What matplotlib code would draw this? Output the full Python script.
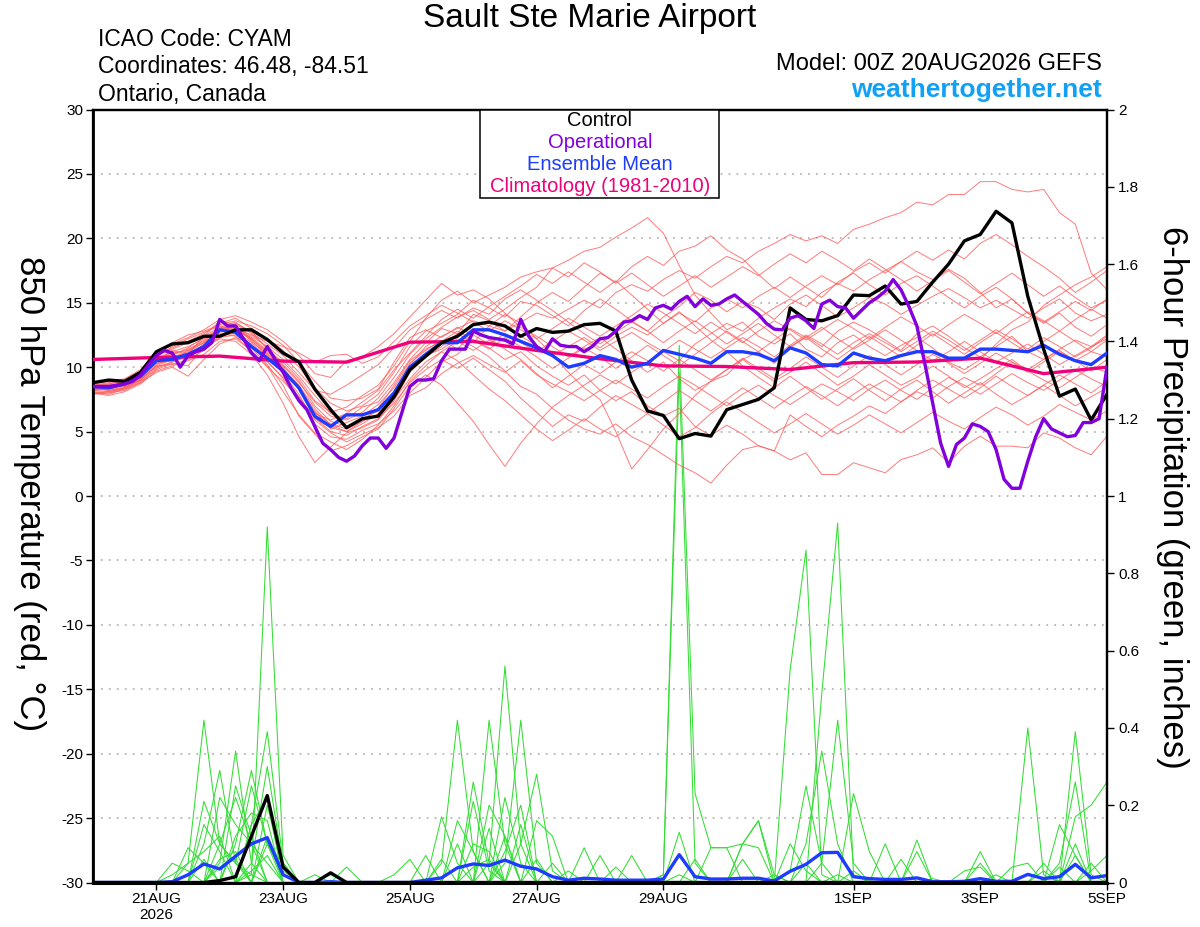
import numpy as np
import matplotlib
matplotlib.use('Agg')
import matplotlib.pyplot as plt
from matplotlib.patches import Rectangle

plt.rcParams['font.family'] = ['Liberation Sans', 'DejaVu Sans']
plt.rcParams['axes.unicode_minus'] = False

# ---------------- DATA ----------------
# time axis: 6-hourly steps from 00Z 20AUG2026 (days since start)
tick_days = [1, 3, 5, 7, 9, 12, 14, 16]
tick_labels = ['21AUG\n2026', '23AUG', '25AUG', '27AUG', '29AUG', '1SEP', '3SEP', '5SEP']

# Control (black) 850 hPa temperature, 6-hourly
control_t = [8.8, 9.0, 8.9, 9.6, 11.2, 11.8, 11.9, 12.4, 12.4, 12.9,
             12.9, 12.15, 11.1, 10.4, 8.3, 6.7, 5.3, 6.0, 6.2, 7.7,
             9.8, 10.85, 11.9, 12.4, 13.3, 13.5, 13.2, 12.4, 13.0, 12.7,
             12.8, 13.3, 13.4, 12.8, 9.0, 6.6, 6.25, 4.45, 4.85, 4.65,
             6.7, 7.1, 7.5, 8.4, 14.6, 13.7, 13.6, 14.0, 15.6, 15.55,
             16.3, 14.9, 15.1, 16.6, 18.0, 19.8, 20.3, 22.1, 21.2, 15.5,
             11.4, 7.75, 8.3, 5.9, 7.9]

# Operational (purple), 3-hourly
oper_t = [8.5, 8.5, 8.5, 8.6, 8.7, 8.9, 9.4, 10.2, 10.9, 11.3,
          11.1, 10.0, 10.9, 11.2, 11.4, 11.9, 13.7, 13.2, 13.2, 12.2,
          11.1, 10.5, 11.6, 10.6, 9.6, 8.4, 7.4, 6.7, 5.4, 4.1,
          3.6, 3.0, 2.7, 3.1, 3.9, 4.5, 4.5, 3.7, 4.5, 6.5,
          8.5, 9.0, 9.0, 9.1, 10.5, 11.4, 11.4, 11.4, 12.8, 12.5,
          12.3, 12.2, 12.1, 11.8, 13.7, 12.4, 11.6, 11.2, 12.2, 11.7,
          11.6, 11.6, 11.2, 11.6, 12.2, 12.3, 12.8, 13.5, 13.6, 14.0,
          13.7, 14.6, 14.8, 14.5, 15.1, 15.5, 14.7, 15.3, 14.8, 14.9,
          15.3, 15.6, 15.1, 14.6, 14.1, 13.4, 12.95, 12.9, 13.8, 14.0,
          13.6, 13.0, 14.9, 15.2, 14.7, 14.6, 13.8, 14.4, 15.0, 15.4,
          15.9, 16.8, 16.0, 14.7, 13.2, 10.3, 7.2, 4.1, 2.3, 4.0,
          4.5, 5.6, 5.4, 5.0, 3.6, 1.3, 0.6, 0.6, 2.7, 4.6,
          6.0, 5.2, 4.9, 4.6, 4.7, 5.7, 5.7, 6.0, 10.0]

# Ensemble mean (blue), 6-hourly
ensmean_t = [8.5, 8.4, 8.7, 9.3, 10.5, 10.6, 11.0, 11.6, 12.9, 12.7,
             11.6, 10.7, 9.7, 8.4, 6.2, 5.4, 6.3, 6.3, 6.7, 8.0,
             10.0, 11.0, 11.9, 11.9, 12.9, 12.9, 12.5, 12.0, 11.5, 10.9,
             10.0, 10.3, 10.9, 10.6, 10.0, 10.3, 11.3, 11.0, 10.7, 10.3,
             11.2, 11.2, 11.0, 10.5, 11.5, 11.1, 10.2, 10.1, 11.1, 10.7,
             10.5, 10.9, 11.2, 11.2, 10.7, 10.7, 11.4, 11.4, 11.3, 11.2,
             11.7, 11.0, 10.5, 10.2, 11.1]

# Climatology (pink), daily
clim_t = [10.6, 10.75, 10.86, 10.47, 10.39, 11.94, 12.0, 11.3, 10.65,
          10.1, 10.05, 9.82, 10.35, 10.4, 10.7, 9.5, 10.0]

# Ensemble members (red), 6-hourly
m01 = [8.2, 8.3, 8.6, 9.2, 10.3, 10.8, 11.2, 11.9, 12.8, 13.2, 12.0, 11.0, 9.9, 8.6, 6.8,
       5.5, 5.0, 5.6, 6.4, 8.0, 10.2, 11.6, 12.4, 13.0, 13.6, 13.2, 12.8, 13.5, 14.2, 13.8,
       14.5, 15.2, 14.6, 15.8, 16.4, 15.9, 16.8, 17.5, 16.9, 17.8, 18.6, 18.1, 19.0, 19.6, 20.3,
       19.8, 20.2, 19.6, 20.7, 21.1, 21.6, 22.0, 22.8, 22.6, 23.4, 23.4, 24.4, 24.4, 23.8, 23.6,
       23.8, 22.0, 21.1, 17.3, 16.0]
m02 = [8.0, 8.1, 8.4, 9.0, 10.0, 10.4, 10.9, 11.5, 12.4, 12.9, 12.3, 11.3, 10.4, 9.1, 7.4,
       6.5, 6.9, 7.8, 8.6, 10.1, 12.0, 13.8, 15.2, 15.9, 15.0, 15.6, 16.2, 17.0, 17.4, 17.7,
       18.3, 19.0, 19.3, 20.1, 20.8, 21.6, 20.4, 17.9, 15.6, 14.2, 12.9, 13.5, 12.4, 11.8, 12.6,
       11.4, 10.8, 11.9, 12.5, 11.6, 10.9, 11.7, 12.3, 11.5, 10.4, 9.8, 10.6, 11.8, 12.9, 13.5,
       14.8, 15.6, 16.4, 17.0, 17.8]
m03 = [8.4, 8.2, 8.5, 9.1, 10.1, 10.2, 10.6, 11.3, 12.5, 12.6, 11.5, 10.2, 8.6, 6.2, 4.8,
       3.5, 3.9, 4.6, 5.2, 6.8, 8.5, 9.4, 8.6, 7.2, 5.8, 4.0, 2.3, 4.1, 5.6, 6.9,
       7.8, 8.6, 9.4, 8.7, 9.6, 10.4, 11.2, 10.5, 11.8, 12.6, 13.4, 12.8, 13.8, 14.6, 15.3,
       14.7, 15.8, 16.5, 15.9, 16.8, 17.5, 18.2, 17.4, 16.8, 17.6, 16.9, 15.8, 14.6, 15.3, 14.2,
       13.5, 14.3, 15.1, 14.4, 15.3]
m04 = [8.0, 7.9, 8.3, 8.9, 9.8, 10.3, 10.1, 11.6, 12.2, 12.0, 11.0, 9.4, 7.2, 4.6, 2.6,
       3.8, 4.9, 5.3, 5.9, 7.4, 9.6, 10.8, 11.6, 12.6, 11.9, 13.2, 14.1, 13.4, 12.2, 11.0,
       9.6, 8.4, 7.5, 5.0, 2.1, 3.6, 5.2, 6.4, 7.8, 8.9, 9.4, 10.6, 11.2, 10.3, 11.5,
       12.4, 11.6, 12.8, 13.5, 12.9, 12.1, 11.3, 12.6, 13.2, 12.4, 11.5, 10.8, 11.6, 12.4, 11.2,
       10.6, 11.4, 12.1, 11.6, 12.5]
m05 = [8.3, 8.5, 8.8, 9.4, 10.6, 11.0, 11.4, 12.0, 13.1, 13.5, 12.6, 11.5, 10.2, 8.9, 7.0,
       5.8, 5.4, 6.0, 6.6, 7.8, 9.8, 10.9, 11.4, 12.2, 11.6, 10.8, 9.7, 8.5, 7.9, 6.8,
       5.9, 5.2, 4.8, 5.6, 4.6, 4.0, 3.2, 2.4, 1.8, 1.0, 2.4, 3.6, 3.9, 3.5, 6.3,
       5.4, 4.6, 5.5, 6.2, 7.0, 6.4, 7.3, 8.1, 7.6, 8.5, 9.2, 8.6, 9.5, 10.4, 9.8,
       10.6, 11.3, 10.5, 11.2, 10.8]
m06 = [8.1, 8.0, 8.4, 9.0, 10.2, 10.7, 11.1, 11.7, 12.7, 13.0, 12.1, 10.9, 9.5, 7.9, 5.6,
       4.6, 4.4, 5.1, 5.6, 6.6, 8.0, 9.2, 10.4, 11.0, 12.1, 11.5, 10.6, 11.2, 10.1, 9.3,
       8.6, 9.4, 8.2, 7.4, 8.1, 7.0, 6.2, 6.8, 5.4, 4.7, 5.5, 4.8, 3.9, 3.5, 2.8,
       3.35, 1.67, 1.67, 2.58, 2.19, 1.8, 2.83, 3.2, 3.74, 2.58, 3.87, 4.64, 3.87, 3.87, 3.74,
       4.9, 4.5, 3.74, 3.2, 4.64]
m07 = [8.6, 8.8, 9.0, 9.6, 10.9, 11.5, 12.0, 12.6, 13.4, 13.8, 13.0, 12.2, 11.3, 10.0, 8.4,
       7.2, 6.6, 7.0, 7.9, 9.6, 11.6, 12.8, 13.4, 14.1, 15.2, 14.6, 13.9, 15.1, 14.8, 14.0,
       13.2, 14.4, 15.3, 14.5, 13.6, 12.8, 13.9, 14.7, 15.8, 15.2, 14.3, 15.1, 14.6, 13.7, 14.9,
       15.6, 14.8, 13.9, 14.6, 15.4, 14.9, 14.1, 14.8, 15.5, 16.1, 15.4, 14.6, 15.2, 14.5, 13.8,
       14.6, 15.3, 14.2, 13.6, 14.1]
m08 = [8.5, 8.7, 8.9, 9.7, 11.0, 11.8, 12.3, 12.9, 13.7, 14.0, 13.5, 12.9, 12.0, 10.9, 9.5,
       9.2, 10.5, 10.8, 11.6, 12.6, 13.9, 15.2, 16.5, 15.6, 16.0, 15.3, 14.2, 13.1, 12.4, 11.6,
       10.8, 11.6, 12.3, 11.4, 10.5, 9.6, 10.4, 9.1, 8.2, 8.9, 9.8, 10.6, 9.7, 8.9, 9.6,
       10.4, 9.5, 8.6, 9.3, 10.2, 9.4, 8.6, 9.2, 10.1, 9.3, 8.4, 9.1, 9.9, 10.6, 9.7,
       9.0, 8.4, 9.2, 10.0, 9.6]
m09 = [8.3, 8.4, 8.7, 9.3, 10.5, 10.9, 11.5, 12.3, 12.9, 13.1, 12.4, 11.6, 10.6, 9.3, 7.8,
       6.4, 6.0, 6.9, 7.3, 8.8, 10.6, 11.9, 13.0, 12.6, 14.1, 13.6, 12.8, 13.9, 15.0, 15.8,
       15.1, 16.2, 17.3, 16.6, 17.8, 18.6, 17.9, 19.0, 19.4, 20.2, 19.1, 18.4, 17.2, 16.1, 17.0,
       16.2, 15.4, 16.6, 17.3, 16.4, 15.6, 16.5, 17.1, 16.3, 15.4, 14.6, 15.5, 16.2, 15.3, 14.2,
       13.4, 14.2, 13.1, 12.4, 13.3]
m10 = [7.9, 8.0, 8.2, 8.8, 9.6, 10.0, 9.3, 10.6, 11.8, 12.3, 11.8, 10.5, 9.1, 7.4, 5.9,
       4.9, 4.2, 4.8, 5.3, 6.2, 7.8, 8.4, 9.5, 10.3, 10.9, 10.2, 9.6, 10.5, 9.4, 8.7,
       8.1, 7.4, 8.2, 9.0, 8.3, 7.6, 8.5, 9.3, 8.6, 7.8, 7.0, 7.9, 8.6, 7.8, 7.1,
       7.9, 8.7, 8.1, 7.4, 8.3, 9.0, 8.2, 7.5, 8.4, 9.2, 8.6, 7.9, 8.7, 9.5, 8.8,
       8.2, 9.0, 9.8, 9.1, 8.5]
m11 = [8.6, 8.5, 8.9, 9.5, 10.7, 11.2, 11.6, 12.2, 13.0, 12.8, 11.9, 10.8, 9.8, 8.5, 6.6,
       5.2, 5.7, 6.2, 7.1, 8.4, 10.3, 11.3, 12.1, 11.4, 12.7, 12.2, 11.5, 12.4, 11.7, 10.9,
       11.6, 12.3, 11.5, 12.4, 13.1, 12.5, 13.4, 14.2, 13.5, 14.6, 15.3, 14.6, 15.5, 16.2, 15.4,
       16.3, 17.1, 16.4, 17.4, 18.1, 17.3, 18.2, 19.0, 18.3, 19.1, 18.4, 19.6, 20.3, 19.5, 18.6,
       17.8, 16.9, 15.8, 16.6, 17.5]
m12 = [8.2, 8.6, 8.5, 9.1, 10.4, 11.3, 11.0, 12.4, 13.6, 13.3, 12.7, 11.8, 10.9, 9.6, 8.2,
       7.9, 8.6, 9.4, 10.2, 11.5, 12.9, 13.7, 14.4, 13.8, 14.6, 14.1, 15.3, 16.0, 15.2, 14.4,
       13.5, 12.6, 11.8, 12.7, 13.5, 12.8, 11.9, 12.8, 13.6, 12.7, 11.8, 12.6, 13.4, 12.5, 11.6,
       12.3, 13.1, 12.2, 11.4, 12.1, 12.9, 12.1, 11.3, 10.5, 11.2, 12.0, 11.2, 10.4, 11.1, 11.8,
       11.0, 10.2, 10.9, 11.6, 12.2]
m13 = [8.4, 8.3, 8.6, 9.2, 10.3, 10.5, 10.8, 11.8, 12.6, 12.4, 11.2, 10.0, 8.9, 7.6, 6.1,
       5.0, 4.7, 5.4, 6.0, 7.2, 8.8, 9.8, 10.6, 9.9, 10.7, 9.8, 8.9, 7.6, 6.5, 5.4,
       6.3, 5.8, 6.9, 7.8, 7.1, 6.4, 5.5, 4.6, 5.3, 6.4, 7.3, 6.5, 5.7, 4.9, 5.6,
       6.4, 5.6, 4.8, 5.5, 6.3, 5.6, 4.9, 5.7, 6.5, 5.8, 5.2, 6.1, 6.9, 6.3, 5.5,
       6.2, 7.1, 6.5, 5.9, 6.6]
m14 = [8.7, 8.9, 9.1, 9.8, 11.2, 11.9, 12.5, 12.8, 13.3, 13.6, 13.2, 12.6, 11.7, 10.4, 8.9,
       7.6, 7.4, 7.6, 8.3, 10.4, 12.3, 12.9, 12.3, 13.1, 12.5, 11.8, 12.6, 11.9, 11.2, 12.0,
       12.8, 12.1, 11.3, 12.0, 12.7, 11.9, 11.2, 12.1, 11.4, 10.7, 11.5, 12.3, 11.6, 10.8, 11.7,
       12.5, 11.8, 11.0, 11.9, 12.6, 11.9, 11.2, 12.0, 12.8, 12.1, 11.3, 12.1, 12.9, 12.2, 11.4,
       12.3, 11.6, 10.8, 11.5, 12.4]
m15 = [8.3, 8.2, 8.4, 9.0, 10.1, 10.6, 11.3, 11.9, 12.9, 13.4, 12.8, 11.4, 10.0, 8.2, 6.4,
       5.9, 6.4, 7.3, 8.2, 9.8, 11.1, 12.4, 13.7, 14.5, 13.8, 14.7, 15.5, 16.3, 17.2, 16.5,
       17.4, 16.6, 15.8, 16.7, 15.6, 14.5, 13.4, 14.3, 13.2, 12.1, 11.2, 10.1, 9.2, 8.4, 9.3,
       8.4, 7.5, 8.3, 9.1, 8.2, 7.4, 8.3, 9.0, 8.1, 7.2, 8.0, 8.8, 7.9, 7.1, 7.8,
       8.6, 7.8, 7.0, 7.7, 8.4]
m16 = [8.0, 7.8, 8.1, 8.7, 9.7, 10.1, 10.5, 11.0, 12.0, 12.2, 11.3, 10.1, 8.1, 6.3, 4.9,
       4.2, 3.6, 4.4, 5.5, 7.0, 8.9, 10.1, 11.2, 12.0, 11.3, 12.1, 11.4, 10.6, 9.5, 8.4,
       9.3, 10.2, 9.5, 10.4, 11.2, 10.5, 9.7, 10.6, 9.8, 9.0, 9.8, 10.7, 9.9, 9.1, 9.9,
       10.8, 10.0, 9.2, 10.1, 10.9, 10.2, 9.4, 10.2, 11.0, 10.3, 9.5, 10.3, 11.1, 10.4, 9.6,
       10.4, 11.2, 10.5, 9.7, 10.6]
m17 = [8.5, 8.6, 8.8, 9.5, 10.8, 11.6, 12.2, 12.7, 13.2, 13.0, 12.5, 12.0, 11.6, 11.1, 10.4,
       10.9, 11.0, 10.3, 10.8, 12.0, 13.2, 14.0, 14.8, 14.2, 13.5, 12.8, 13.6, 12.9, 12.2, 13.0,
       13.8, 13.1, 12.4, 13.2, 14.0, 14.9, 14.2, 13.4, 12.6, 13.5, 12.7, 11.9, 12.8, 13.6, 12.9,
       12.1, 12.9, 13.7, 13.0, 12.2, 13.1, 13.9, 13.2, 12.4, 13.3, 14.1, 13.4, 12.6, 13.5, 14.3,
       13.6, 12.8, 13.7, 14.5, 13.8]
m18 = [8.2, 8.1, 8.3, 8.8, 9.9, 10.4, 10.8, 11.4, 12.3, 12.5, 11.6, 10.4, 9.2, 7.7, 6.0,
       5.3, 5.0, 5.8, 6.3, 7.5, 9.1, 10.4, 11.2, 10.5, 9.4, 8.3, 7.4, 6.3, 5.2, 4.3,
       5.1, 6.0, 5.2, 4.6, 5.5, 6.4, 7.3, 8.2, 7.4, 6.6, 7.5, 8.4, 7.6, 6.8, 7.7,
       8.5, 7.8, 7.0, 7.9, 8.7, 8.0, 7.3, 8.2, 9.0, 8.3, 7.6, 8.4, 9.3, 8.5, 7.8,
       8.6, 9.4, 8.7, 8.0, 8.9]
m19 = [8.6, 8.7, 9.0, 9.7, 10.9, 11.4, 11.9, 12.4, 13.1, 12.9, 12.2, 11.2, 10.1, 8.8, 7.3,
       6.2, 5.9, 6.5, 7.6, 9.2, 11.0, 12.2, 13.1, 13.9, 14.4, 13.7, 14.5, 15.4, 16.2, 17.7,
       17.0, 18.1, 17.4, 16.5, 17.3, 16.4, 15.5, 16.3, 17.1, 16.2, 17.0, 17.8, 17.1, 18.0, 18.8,
       18.1, 19.0, 18.3, 17.5, 18.4, 17.6, 16.8, 15.9, 16.7, 17.5, 16.6, 15.7, 16.5, 17.3, 16.4,
       15.5, 16.3, 15.4, 14.6, 15.2]
m20 = [8.4, 8.6, 8.7, 9.4, 10.6, 11.1, 11.3, 12.1, 13.0, 13.2, 12.2, 11.1, 9.9, 8.3, 6.5,
       5.6, 5.2, 5.8, 6.8, 8.6, 10.5, 11.4, 12.0, 12.8, 12.1, 11.4, 12.3, 11.6, 10.8, 9.9,
       10.7, 11.5, 10.8, 9.9, 10.8, 11.7, 10.9, 10.1, 11.0, 11.9, 12.8, 12.0, 11.2, 12.1, 13.0,
       12.3, 11.4, 10.6, 11.5, 12.4, 11.6, 10.8, 11.7, 12.6, 11.8, 11.0, 11.9, 12.7, 11.9, 11.1,
       12.0, 12.8, 12.0, 11.2, 12.1]
members_t = [m01, m02, m03, m04, m05, m06, m07, m08, m09, m10,
             m11, m12, m13, m14, m15, m16, m17, m18, m19, m20]

# 6-hour precipitation (inches), 6-hourly
control_p = [0, 0, 0, 0, 0, 0, 0, 0, .005, .015, .12, .225, .04, 0, 0, .025, 0, 0, 0, 0,
             0, 0, 0, 0, 0, 0, 0, 0, 0, 0, 0, 0, 0, 0, 0, 0, 0, 0, 0, 0,
             0, 0, 0, 0, 0, 0, 0, 0, 0, 0, 0, 0, 0, 0, 0, 0, 0, 0, 0, 0,
             0, 0, 0, 0, 0]
ensmean_p = [0, 0, 0, 0, 0, .002, .02, .048, .035, .068, .10, .116, .02, 0, 0,
             .002, 0, 0, 0, 0, 0, .006, .012, .038, .048, .044, .058, .042, .035, .015,
             .006, .011, .009, .006, .006, .006, .009, .072, .015, .009, .009, .011, .011, .004, .029,
             .047, .077, .078, .015, .01, .008, .008, .012, .002, .002, .003, .01, .003, .003, .021,
             .01, .015, .047, .012, .018]

g01 = [0,0,0,0,0, .02,.05,.42,.10,.05, .02,0,0,0,0, 0,0,0,0,0, 0,0,.05,.42,.08, 0,0,0,0,0, 0,0,0,0,0, 0,0,.02,0,0, 0,0,0,0,.55, .86,.02,0,0,0, 0,0,0,0,0, 0,0,0,0,.40, .02,0,0,0,0]
g02 = [0,0,0,0,0, 0,0,.21,.10,.05, .25,.10,.02,0,0, 0,0,0,0,0, 0,0,0,0,0, .42,.10,0,0,0, 0,0,0,0,0, 0,.02,1.39,.23,.09, .09,.10,.16,.02,0, 0,0,0,0,0, 0,0,0,0,0, 0,0,0,0,0, 0,0,.39,.02,0]
g03 = [0,0,0,0,0, 0,0,0,0,0, .02,.92,.07,0,0, 0,0,0,0,0, 0,0,0,0,0, .05,.56,.10,0,0, 0,0,0,0,0, 0,0,0,0,0, 0,0,0,0,0, 0,.49,.93,.02,0, 0,0,0,0,0, 0,0,.02,0,0, 0,0,0,0,0]
g04 = [0,0,0,0,0, 0,0,0,0,0, .15,.39,.05,0,0, 0,0,0,0,0, 0,0,0,0,0, 0,.05,.42,.05,0, 0,0,0,0,0, 0,.02,1.32,.05,0, 0,0,0,0,0, 0,0,0,0,0, 0,0,0,0,0, 0,0,0,0,0, 0,.05,.26,0,0]
g05 = [0,0,0,0,0, 0,0,0,.05,.34, .05,0,0,0,0, 0,0,0,0,0, 0,0,0,0,0, 0,0,.10,.28,.03, 0,0,0,0,0, 0,0,0,0,0, 0,0,0,0,0, 0,.05,.42,.05,0, 0,0,0,0,0, 0,0,0,0,0, 0,0,.17,.20,.26]
g06 = [0,0,0,0,0, 0,0,0,.10,.22, .10,.05,0,0,0, 0,0,0,0,0, 0,0,0,0,.26, .05,0,0,0,0, 0,0,0,0,0, 0,0,0,0,0, 0,0,0,0,0, .10,.34,.10,0,0, 0,0,0,0,0, 0,0,0,0,0, 0,0,0,0,0]
g07 = [0,0,0,0,0, 0,0,.10,.29,.05, 0,0,0,0,0, 0,0,0,0,0, 0,0,.17,.05,0, 0,0,0,0,0, 0,0,0,0,0, 0,0,0,0,0, 0,0,0,0,0, 0,0,0,.23,.08, 0,0,0,0,0, 0,0,0,0,0, 0,.15,.07,0,0]
g08 = [0,0,0,0,0, 0,0,0,0,.10, .29,.10,0,0,0, 0,0,0,0,0, 0,0,0,0,0, 0,.22,.05,0,0, 0,0,0,0,0, 0,0,0,0,0, 0,0,0,0,.03, .25,.05,0,0,0, 0,0,0,0,0, 0,.08,0,0,0, 0,0,0,0,0]
g09 = [0,0,0,0,0, 0,.09,.05,0,0, 0,0,0,0,0, 0,0,0,0,0, 0,0,0,0,.21, .03,0,0,0,0, 0,0,0,0,0, 0,0,0,0,0, 0,.10,.16,0,0, 0,0,0,0,0, 0,0,.11,0,0, 0,0,0,0,0, 0,0,0,0,0]
g10 = [0,0,0,0,0, .05,.03,0,0,0, 0,.20,.03,0,0, 0,0,0,0,0, 0,0,0,0,0, 0,0,0,.16,.12, 0,0,0,0,0, 0,0,0,0,0, 0,0,0,0,0, 0,0,0,0,0, .10,0,0,0,0, 0,0,0,.04,.05, 0,0,0,0,0]
g11 = [0,0,0,0,0, 0,0,0,.22,.15, .10,0,0,0,0, 0,0,0,0,0, 0,0,0,0,0, .14,0,0,0,0, 0,.09,0,0,0, 0,0,0,0,.09, .09,0,0,0,0, 0,0,0,0,0, 0,0,0,0,0, 0,0,0,0,0, 0,0,.07,0,0]
g12 = [0,0,0,0,0, 0,0,.15,.08,0, .15,.22,0,0,0, 0,0,0,0,0, 0,.07,0,0,0, 0,0,0,0,0, 0,0,.07,0,0, 0,0,0,0,0, 0,0,0,0,0, 0,0,0,0,0, 0,0,.08,0,0, 0,0,0,0,0, .05,0,0,0,0]
g13 = [0,0,0,0,0, 0,0,0,0,.12, .18,.16,0,0,0, 0,.04,0,0,0, 0,0,0,0,.10, .08,0,0,0,0, 0,0,0,0,.07, 0,0,0,0,0, 0,.06,0,0,0, 0,0,0,0,0, 0,0,0,0,0, 0,.05,0,0,0, 0,0,0,0,0]
g14 = [0,0,0,0,0, 0,.05,.08,.12,0, 0,0,0,0,0, 0,0,0,0,.02, .06,0,0,0,0, 0,.12,0,0,0, 0,0,0,0,0, 0,0,0,.06,0, 0,0,0,0,0, 0,0,0,0,0, 0,0,0,0,0, 0,0,0,0,0, 0,0,0,.03,.07]
g15 = [0,0,0,0,0, 0,0,0,0,0, .05,.30,.04,0,0, 0,0,0,0,0, 0,0,0,.10,0, 0,0,.15,0,0, 0,0,0,0,0, 0,0,0,0,0, 0,.10,.09,0,0, 0,0,0,0,0, 0,.06,0,0,0, 0,0,0,0,0, 0,0,0,0,0]
g16 = [0,0,0,0,0, 0,0,0,.06,.08, 0,.12,0,0,0, .02,0,0,0,0, 0,0,.06,0,0, 0,0,0,0,.05, 0,0,0,0,0, 0,0,.13,0,0, 0,0,0,0,0, .05,0,0,0,0, 0,0,0,0,0, 0,0,0,0,0, 0,.04,0,0,0]
g17 = [0,0,0,0,0, 0,0,0,0,.25, .12,0,0,0,0, 0,0,0,0,0, 0,0,0,.16,.08, 0,0,0,.06,0, 0,0,0,0,0, 0,0,0,0,0, 0,0,0,.02,0, 0,0,0,0,0, 0,0,0,0,0, 0,0,0,0,0, .03,0,0,0,0]
g18 = [0,0,0,0,0, 0,0,0,0,0, 0,.10,.05,0,.02, 0,0,0,0,0, 0,0,0,0,0, .20,.12,0,0,0, 0,0,0,.04,0, 0,0,0,0,0, 0,0,0,0,0, 0,0,0,.03,0, 0,0,0,0,0, 0,0,0,0,0, 0,0,.10,0,0]
g19 = [0,0,0,0,0, 0,0,.06,0,0, .03,.07,0,0,0, 0,0,0,0,0, 0,0,0,0,0, 0,.08,.20,0,0, 0,0,0,0,0, 0,0,0,0,0, 0,0,0,0,.10, .03,0,0,0,0, 0,0,0,0,0, .03,.04,0,0,0, 0,0,0,0,0]
g20 = [0,0,0,0,0, 0,0,0,.04,.06, 0,0,0,0,0, 0,0,0,0,0, 0,0,0,0,.04, .06,0,0,0,0, .03,0,0,0,0, 0,0,0,0,0, 0,0,0,0,0, 0,0,.02,0,0, 0,0,0,.01,0, 0,0,0,0,0, 0,0,0,.05,0]
members_p = [g01, g02, g03, g04, g05, g06, g07, g08, g09, g10,
             g11, g12, g13, g14, g15, g16, g17, g18, g19, g20]


def days(values, step):
    return np.arange(len(values)) * step


# ---------------- FIGURE ----------------
W, H = 1200, 927
fig = plt.figure(figsize=(W / 100, H / 100), dpi=100)
rect = [93 / W, 1 - 882.5 / H, (1107 - 93) / W, (882.5 - 109.5) / H]
ax = fig.add_axes(rect)
ax2 = ax.twinx()
ax.set_zorder(ax2.get_zorder() + 1)
ax.patch.set_visible(False)

RED = '#ff5a5a'
GREEN = '#33dd33'
PURPLE = '#8200dc'
BLUE = '#1e3cff'
PINK = '#f0007a'

# precipitation (right axis)
for g in members_p:
    ax2.plot(days(g, 0.25), g, color=GREEN, lw=0.75, zorder=2)
ax2.plot(days(ensmean_p, 0.25), ensmean_p, color=BLUE, lw=2.4, zorder=3)
ax2.plot(days(control_p, 0.25), control_p, color='black', lw=2.4, zorder=4)

# temperature (left axis)
for m in members_t:
    ax.plot(days(m, 0.25), m, color=RED, lw=0.7, alpha=0.8, zorder=2)
ax.plot(days(clim_t, 1.0), clim_t, color=PINK, lw=2.4, zorder=3)
ax.plot(days(ensmean_t, 0.25), ensmean_t, color=BLUE, lw=2.4, zorder=4)
ax.plot(days(control_t, 0.25), control_t, color='black', lw=2.4, zorder=5)
ax.plot(days(oper_t, 0.125), oper_t, color=PURPLE, lw=2.4, zorder=6)

ax.set_xlim(0, 16)
ax.set_ylim(-30, 30)
ax2.set_ylim(0, 2)
ax.set_yticks(np.arange(-30, 31, 5))
ax2.set_yticks(np.round(np.arange(0, 2.01, 0.2), 1))
ax2.set_yticklabels(['%g' % v for v in np.round(np.arange(0, 2.01, 0.2), 1)])
ax.set_xticks(tick_days)
ax.set_xticklabels(tick_labels)

ax.grid(axis='y', color='#aaaaaa', linestyle=(0, (1.2, 4.0)), linewidth=1.1)
ax.set_axisbelow(True)

ax.tick_params(axis='y', direction='out', length=5, width=1, labelsize=11, pad=2)
ax.tick_params(axis='x', direction='out', length=5, width=1, labelsize=11, pad=2)
ax2.tick_params(axis='y', direction='out', length=5, width=1, labelsize=11, pad=3)

for a in (ax, ax2):
    for s in a.spines.values():
        s.set_linewidth(1.6)
ax.spines['left'].set_linewidth(2.0)
ax.spines['bottom'].set_linewidth(2.2)

# axis labels
fig.text(29 / W, 1 - 494 / H, '850 hPa Temperature (red, °C)', rotation=-90,
         ha='center', va='center', fontsize=25)
fig.text(1172 / W, 1 - 497 / H, '6-hour Precipitation (green, inches)', rotation=-90,
         ha='center', va='center', fontsize=25)

# header
fig.text(590 / W, 1 - 19 / H, 'Sault Ste Marie Airport', ha='center', va='center', fontsize=24)
fig.text(98 / W, 1 - 40 / H, 'ICAO Code: CYAM', ha='left', va='center', fontsize=16.5)
fig.text(98 / W, 1 - 67 / H, 'Coordinates: 46.48, -84.51', ha='left', va='center', fontsize=16.5)
fig.text(98 / W, 1 - 94 / H, 'Ontario, Canada', ha='left', va='center', fontsize=16.5)
fig.text(1102 / W, 1 - 64 / H, 'Model: 00Z 20AUG2026 GEFS', ha='right', va='center', fontsize=17)
fig.text(1102 / W, 1 - 90 / H, 'weathertogether.net', ha='right', va='center', fontsize=19,
         fontweight='bold', color='#12a0f5')

# legend box
fig.patches.append(Rectangle((480 / W, 1 - 198 / H), 239 / W, 88 / H, transform=fig.transFigure,
                             facecolor='white', edgecolor='black', lw=1.1, zorder=10))
leg = [('Control', 'black', 121), ('Operational', PURPLE, 142),
       ('Ensemble Mean', BLUE, 164), ('Climatology (1981-2010)', PINK, 186)]
for txt, col, yy in leg:
    fig.text(600 / W, 1 - yy / H, txt, color=col, ha='center', va='center', fontsize=14.5, zorder=11)

fig.savefig('out.png', dpi=100)
